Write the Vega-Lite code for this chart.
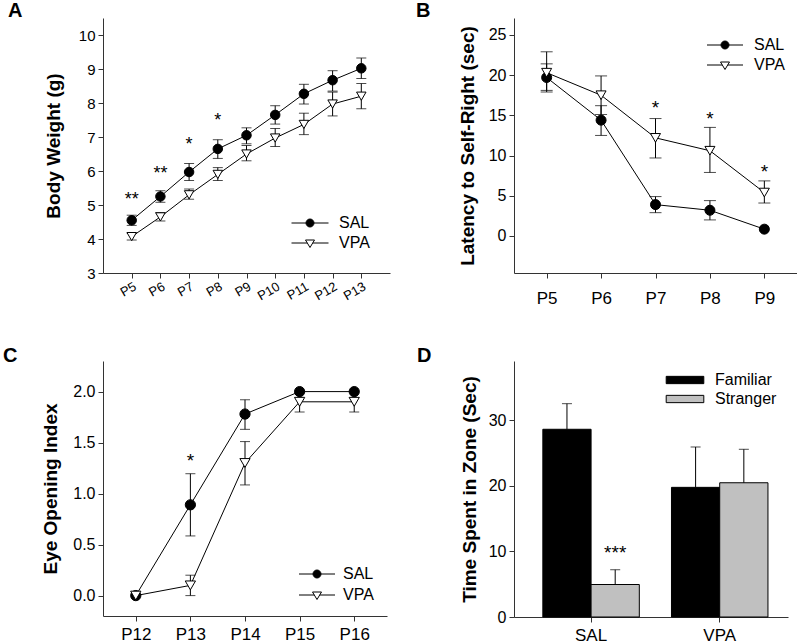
{
 "$schema": "https://vega.github.io/schema/vega-lite/v6.json",
 "background": "white",
 "padding": {"left": 3, "top": 1, "right": 0, "bottom": 0},
 "columns": 2,
 "spacing": {"row": 40, "column": 26},
 "config": {
  "font": "Liberation Sans",
  "view": {"stroke": null},
  "axis": {"grid": false, "domainColor": "#333333", "tickColor": "#333333", "labelColor": "#000000", "titleColor": "#000000", "labelFont": "Liberation Sans", "titleFont": "Liberation Sans", "labelFontSize": 16, "titleFontSize": 19, "titleFontWeight": "bold", "tickSize": 5, "labelPadding": 3},
  "legend": {"labelFont": "Liberation Sans", "labelFontSize": 16, "labelColor": "#000000", "symbolStrokeColor": "black", "symbolStrokeWidth": 1, "symbolSize": 100, "padding": 0},
  "title": {"font": "Liberation Sans", "fontSize": 20, "fontWeight": "bold", "anchor": "start", "color": "#000000", "frame": "group"}
 },
 "datasets": {
  "a": [
   {"day": "P5", "group": "SAL", "mean": 4.55, "lo": 4.40, "hi": 4.70},
   {"day": "P6", "group": "SAL", "mean": 5.25, "lo": 5.08, "hi": 5.42},
   {"day": "P7", "group": "SAL", "mean": 5.97, "lo": 5.72, "hi": 6.22},
   {"day": "P8", "group": "SAL", "mean": 6.65, "lo": 6.37, "hi": 6.92},
   {"day": "P9", "group": "SAL", "mean": 7.05, "lo": 6.80, "hi": 7.27},
   {"day": "P10", "group": "SAL", "mean": 7.65, "lo": 7.38, "hi": 7.92},
   {"day": "P11", "group": "SAL", "mean": 8.27, "lo": 7.97, "hi": 8.55},
   {"day": "P12", "group": "SAL", "mean": 8.67, "lo": 8.35, "hi": 8.95},
   {"day": "P13", "group": "SAL", "mean": 9.02, "lo": 8.72, "hi": 9.32},
   {"day": "P5", "group": "VPA", "mean": 4.07, "lo": 3.97, "hi": 4.17},
   {"day": "P6", "group": "VPA", "mean": 4.65, "lo": 4.53, "hi": 4.78},
   {"day": "P7", "group": "VPA", "mean": 5.30, "lo": 5.17, "hi": 5.47},
   {"day": "P8", "group": "VPA", "mean": 5.90, "lo": 5.72, "hi": 6.10},
   {"day": "P9", "group": "VPA", "mean": 6.50, "lo": 6.30, "hi": 6.75},
   {"day": "P10", "group": "VPA", "mean": 6.97, "lo": 6.72, "hi": 7.25},
   {"day": "P11", "group": "VPA", "mean": 7.37, "lo": 7.07, "hi": 7.70},
   {"day": "P12", "group": "VPA", "mean": 7.97, "lo": 7.62, "hi": 8.32},
   {"day": "P13", "group": "VPA", "mean": 8.20, "lo": 7.83, "hi": 8.57}
  ],
  "aStars": [
   {"day": "P5", "y": 5.14, "t": "**"},
   {"day": "P6", "y": 5.90, "t": "**"},
   {"day": "P7", "y": 6.76, "t": "*"},
   {"day": "P8", "y": 7.48, "t": "*"}
  ],
  "b": [
   {"day": "P5", "group": "SAL", "mean": 19.7, "lo": 18.1, "hi": 21.4},
   {"day": "P6", "group": "SAL", "mean": 14.4, "lo": 12.5, "hi": 16.2},
   {"day": "P7", "group": "SAL", "mean": 3.9, "lo": 2.9, "hi": 4.9},
   {"day": "P8", "group": "SAL", "mean": 3.2, "lo": 2.0, "hi": 4.4},
   {"day": "P9", "group": "SAL", "mean": 0.85, "lo": null, "hi": null},
   {"day": "P5", "group": "VPA", "mean": 20.3, "lo": 17.9, "hi": 22.9},
   {"day": "P6", "group": "VPA", "mean": 17.5, "lo": 15.1, "hi": 19.9},
   {"day": "P7", "group": "VPA", "mean": 12.2, "lo": 9.7, "hi": 14.6},
   {"day": "P8", "group": "VPA", "mean": 10.6, "lo": 7.9, "hi": 13.5},
   {"day": "P9", "group": "VPA", "mean": 5.4, "lo": 4.1, "hi": 6.85}
  ],
  "bStars": [
   {"day": "P7", "y": 15.9, "t": "*"},
   {"day": "P8", "y": 14.6, "t": "*"},
   {"day": "P9", "y": 7.9, "t": "*"}
  ],
  "c": [
   {"day": "P12", "group": "SAL", "mean": 0.0, "lo": null, "hi": null},
   {"day": "P13", "group": "SAL", "mean": 0.89, "lo": 0.585, "hi": 1.195},
   {"day": "P14", "group": "SAL", "mean": 1.78, "lo": 1.63, "hi": 1.92},
   {"day": "P15", "group": "SAL", "mean": 2.0, "lo": null, "hi": null},
   {"day": "P16", "group": "SAL", "mean": 2.0, "lo": null, "hi": null},
   {"day": "P12", "group": "VPA", "mean": 0.0, "lo": null, "hi": null},
   {"day": "P13", "group": "VPA", "mean": 0.1, "lo": 0.0, "hi": 0.2},
   {"day": "P14", "group": "VPA", "mean": 1.3, "lo": 1.085, "hi": 1.51},
   {"day": "P15", "group": "VPA", "mean": 1.9, "lo": 1.8, "hi": 2.0},
   {"day": "P16", "group": "VPA", "mean": 1.9, "lo": 1.8, "hi": 2.0}
  ],
  "cStars": [
   {"day": "P13", "y": 1.32, "t": "*"}
  ],
  "d": [
   {"cond": "SAL", "zone": "Familiar", "mean": 28.6, "hi": 32.5},
   {"cond": "SAL", "zone": "Stranger", "mean": 4.95, "hi": 7.2},
   {"cond": "VPA", "zone": "Familiar", "mean": 19.75, "hi": 25.9},
   {"cond": "VPA", "zone": "Stranger", "mean": 20.45, "hi": 25.55}
  ],
  "dStars": [
   {"cond": "SAL", "zone": "Stranger", "y": 9.7, "t": "***"}
  ]
 },
 "concat": [
  {
   "width": 287, "height": 255,
   "title": {"text": "A", "dx": -95, "dy": 7},
   "encoding": {"x": {"field": "day", "type": "ordinal", "sort": ["P5", "P6", "P7", "P8", "P9", "P10", "P11", "P12", "P13"], "scale": {"type": "point", "padding": 1.1}, "axis": {"title": null, "labelAngle": -30, "labelFontSize": 13, "labelPadding": 2}}},
   "layer": [
    {"data": {"name": "a"}, "mark": {"type": "line", "color": "black", "strokeWidth": 1},
     "encoding": {"y": {"field": "mean", "type": "quantitative", "title": "Body Weight (g)", "scale": {"domain": [3, 10.5], "nice": false, "zero": false}, "axis": {"values": [3, 4, 5, 6, 7, 8, 9, 10], "titlePadding": 15, "labelFontSize": 15}}, "detail": {"field": "group"}}},
    {"data": {"name": "a"}, "mark": {"type": "errorbar", "color": "black", "thickness": 1, "ticks": {"size": 10, "thickness": 1, "color": "black"}},
     "encoding": {"y": {"field": "lo", "type": "quantitative", "title": "Body Weight (g)", "axis": {"values": [3, 4, 5, 6, 7, 8, 9, 10], "titlePadding": 15, "labelFontSize": 15}}, "y2": {"field": "hi"}, "detail": {"field": "group"}}},
    {"data": {"name": "a"}, "mark": {"type": "point", "filled": true, "size": 90, "strokeWidth": 1, "opacity": 1},
     "encoding": {"y": {"field": "mean", "type": "quantitative", "title": "Body Weight (g)", "axis": {"values": [3, 4, 5, 6, 7, 8, 9, 10], "titlePadding": 15, "labelFontSize": 15}},
      "fill": {"field": "group", "type": "nominal", "scale": {"domain": ["SAL", "VPA"], "range": ["black", "white"]}, "legend": {"title": null, "values": ["SAL"], "orient": "none", "legendX": 199, "legendY": 197, "labelOffset": 21, "symbolType": "M-3.7,0H3.7M0.8,0A0.8,0.8,0,1,1,-0.8,0A0.8,0.8,0,1,1,0.8,0Z"}},
      "stroke": {"field": "group", "type": "nominal", "scale": {"domain": ["VPA", "SAL"], "range": ["black", "black"]}, "legend": {"title": null, "values": ["VPA"], "orient": "none", "legendX": 199, "legendY": 217, "labelOffset": 21, "symbolFillColor": "white", "symbolType": "M-3.7,0H-0.54M0.54,0H3.7M-0.9,-0.6L0.9,-0.6L0,0.9Z"}},
      "shape": {"field": "group", "type": "nominal", "scale": {"domain": ["SAL", "VPA", "other"], "range": ["circle", "triangle-down", "square"]}, "legend": null}}},
    {"data": {"name": "aStars"}, "mark": {"type": "text", "fontSize": 18, "baseline": "middle"},
     "encoding": {"y": {"field": "y", "type": "quantitative", "title": "Body Weight (g)", "axis": {"values": [3, 4, 5, 6, 7, 8, 9, 10], "titlePadding": 15, "labelFontSize": 15}}, "text": {"field": "t"}}}
   ]
  },
  {
   "width": 283, "height": 255,
   "title": {"text": "B", "dx": -98, "dy": 7},
   "encoding": {"x": {"field": "day", "type": "ordinal", "sort": ["P5", "P6", "P7", "P8", "P9"], "scale": {"type": "point", "padding": 0.6}, "axis": {"title": null, "labelAngle": 0, "labelFontSize": 17, "labelPadding": 12}}},
   "layer": [
    {"data": {"name": "b"}, "mark": {"type": "line", "color": "black", "strokeWidth": 1},
     "encoding": {"y": {"field": "mean", "type": "quantitative", "title": "Latency to Self-Right (sec)", "scale": {"domain": [-4.6, 27.1], "nice": false, "zero": false}, "axis": {"values": [0, 5, 10, 15, 20, 25], "titlePadding": 11}}, "detail": {"field": "group"}}},
    {"data": {"name": "b"}, "transform": [{"filter": "isValid(datum.lo)"}], "mark": {"type": "errorbar", "color": "black", "thickness": 1, "ticks": {"size": 12, "thickness": 1, "color": "black"}},
     "encoding": {"y": {"field": "lo", "type": "quantitative", "title": "Latency to Self-Right (sec)", "axis": {"values": [0, 5, 10, 15, 20, 25], "titlePadding": 11}}, "y2": {"field": "hi"}, "detail": {"field": "group"}}},
    {"data": {"name": "b"}, "mark": {"type": "point", "filled": true, "size": 100, "strokeWidth": 1, "opacity": 1},
     "encoding": {"y": {"field": "mean", "type": "quantitative", "title": "Latency to Self-Right (sec)", "axis": {"values": [0, 5, 10, 15, 20, 25], "titlePadding": 11}},
      "fill": {"field": "group", "type": "nominal", "scale": {"domain": ["SAL", "VPA"], "range": ["black", "white"]}, "legend": {"title": null, "values": ["SAL"], "orient": "none", "legendX": 203, "legendY": 19, "labelOffset": 21, "symbolType": "M-3.6,0H3.6M0.8,0A0.8,0.8,0,1,1,-0.8,0A0.8,0.8,0,1,1,0.8,0Z"}},
      "stroke": {"field": "group", "type": "nominal", "scale": {"domain": ["VPA", "SAL"], "range": ["black", "black"]}, "legend": {"title": null, "values": ["VPA"], "orient": "none", "legendX": 203, "legendY": 39, "labelOffset": 21, "symbolFillColor": "white", "symbolType": "M-3.6,0H-0.54M0.54,0H3.6M-0.9,-0.6L0.9,-0.6L0,0.9Z"}},
      "shape": {"field": "group", "type": "nominal", "scale": {"domain": ["SAL", "VPA", "other"], "range": ["circle", "triangle-down", "square"]}, "legend": null}}},
    {"data": {"name": "bStars"}, "mark": {"type": "text", "fontSize": 19, "baseline": "middle"},
     "encoding": {"y": {"field": "y", "type": "quantitative", "title": "Latency to Self-Right (sec)", "axis": {"values": [0, 5, 10, 15, 20, 25], "titlePadding": 11}}, "text": {"field": "t"}}}
   ]
  },
  {
   "width": 284, "height": 255,
   "title": {"text": "C", "dx": -100, "dy": 9},
   "encoding": {"x": {"field": "day", "type": "ordinal", "sort": ["P12", "P13", "P14", "P15", "P16"], "scale": {"type": "point", "padding": 0.6}, "axis": {"title": null, "labelAngle": 0, "labelFontSize": 17, "labelPadding": 5}}},
   "layer": [
    {"data": {"name": "c"}, "mark": {"type": "line", "color": "black", "strokeWidth": 1},
     "encoding": {"y": {"field": "mean", "type": "quantitative", "title": "Eye Opening Index", "scale": {"domain": [-0.2, 2.3], "nice": false, "zero": false}, "axis": {"values": [0, 0.5, 1, 1.5, 2], "format": ".1f", "titlePadding": 12}}, "detail": {"field": "group"}}},
    {"data": {"name": "c"}, "transform": [{"filter": "isValid(datum.lo)"}], "mark": {"type": "errorbar", "color": "black", "thickness": 1, "ticks": {"size": 10, "thickness": 1, "color": "black"}},
     "encoding": {"y": {"field": "lo", "type": "quantitative", "title": "Eye Opening Index", "axis": {"values": [0, 0.5, 1, 1.5, 2], "format": ".1f", "titlePadding": 12}}, "y2": {"field": "hi"}, "detail": {"field": "group"}}},
    {"data": {"name": "c"}, "mark": {"type": "point", "filled": true, "size": 105, "strokeWidth": 1, "opacity": 1},
     "encoding": {"y": {"field": "mean", "type": "quantitative", "title": "Eye Opening Index", "axis": {"values": [0, 0.5, 1, 1.5, 2], "format": ".1f", "titlePadding": 12}},
      "fill": {"field": "group", "type": "nominal", "scale": {"domain": ["SAL", "VPA"], "range": ["black", "white"]}, "legend": {"title": null, "values": ["SAL"], "orient": "none", "legendX": 206, "legendY": 205, "labelOffset": 18, "symbolType": "M-3.6,0H3.6M0.8,0A0.8,0.8,0,1,1,-0.8,0A0.8,0.8,0,1,1,0.8,0Z"}},
      "stroke": {"field": "group", "type": "nominal", "scale": {"domain": ["VPA", "SAL"], "range": ["black", "black"]}, "legend": {"title": null, "values": ["VPA"], "orient": "none", "legendX": 206, "legendY": 226, "labelOffset": 18, "symbolFillColor": "white", "symbolType": "M-3.6,0H-0.54M0.54,0H3.6M-0.9,-0.6L0.9,-0.6L0,0.9Z"}},
      "shape": {"field": "group", "type": "nominal", "scale": {"domain": ["SAL", "VPA", "other"], "range": ["circle", "triangle-down", "square"]}, "legend": null}}},
    {"data": {"name": "cStars"}, "mark": {"type": "text", "fontSize": 19, "baseline": "middle"},
     "encoding": {"y": {"field": "y", "type": "quantitative", "title": "Eye Opening Index", "axis": {"values": [0, 0.5, 1, 1.5, 2], "format": ".1f", "titlePadding": 12}}, "text": {"field": "t"}}}
   ]
  },
  {
   "width": 274, "height": 256,
   "title": {"text": "D", "dx": -97, "dy": 9},
   "encoding": {
    "x": {"field": "cond", "type": "nominal", "sort": ["SAL", "VPA"], "scale": {"type": "band", "paddingInner": 0.25, "paddingOuter": 0.19, "align": 0.59}, "axis": {"title": null, "labelAngle": 0, "labelFontSize": 17, "labelPadding": 5}},
    "xOffset": {"field": "zone", "type": "nominal", "sort": ["Familiar", "Stranger"], "scale": {"paddingInner": 0, "paddingOuter": 0}}
   },
   "layer": [
    {"data": {"name": "d"}, "mark": {"type": "bar", "stroke": "black", "strokeWidth": 1},
     "encoding": {"y": {"field": "mean", "type": "quantitative", "stack": null, "title": "Time Spent in Zone (Sec)", "scale": {"domain": [0, 39], "nice": false}, "axis": {"values": [0, 10, 20, 30], "titlePadding": 9}},
      "fill": {"field": "zone", "type": "nominal", "scale": {"domain": ["Familiar", "Stranger"], "range": ["#000000", "#c0c0c0"]}, "legend": {"title": null, "orient": "top-right", "offset": 11, "symbolType": "M-3.76,-0.73H3.76V0.73H-3.76Z", "labelOffset": 22, "rowPadding": 3}}}},
    {"data": {"name": "d"}, "mark": {"type": "rule", "color": "black", "strokeWidth": 1},
     "encoding": {"y": {"field": "mean", "type": "quantitative", "title": "Time Spent in Zone (Sec)", "axis": {"values": [0, 10, 20, 30], "titlePadding": 9}}, "y2": {"field": "hi"}}},
    {"data": {"name": "d"}, "mark": {"type": "tick", "color": "black", "thickness": 1, "size": 10, "orient": "horizontal"},
     "encoding": {"y": {"field": "hi", "type": "quantitative", "title": "Time Spent in Zone (Sec)", "axis": {"values": [0, 10, 20, 30], "titlePadding": 9}}}},
    {"data": {"name": "dStars"}, "mark": {"type": "text", "fontSize": 19, "baseline": "middle"},
     "encoding": {"y": {"field": "y", "type": "quantitative", "title": "Time Spent in Zone (Sec)", "axis": {"values": [0, 10, 20, 30], "titlePadding": 9}}, "text": {"field": "t"}}}
   ]
  }
 ],
 "resolve": {"scale": {"shape": "independent", "fill": "independent", "stroke": "independent"}, "legend": {"shape": "independent", "fill": "independent", "stroke": "independent"}}
}
